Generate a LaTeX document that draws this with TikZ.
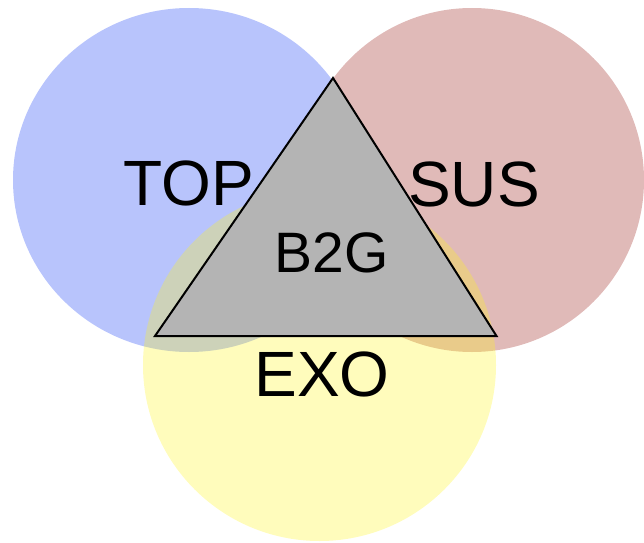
\documentclass[tikz,border=0pt]{standalone}
\usepackage{fontspec}
\setmainfont{Liberation Sans}
\definecolor{topblue}{RGB}{184,196,252}
\definecolor{susred}{RGB}{224,186,184}
\definecolor{exoyellow}{RGB}{255,245,32}
\definecolor{bgggray}{RGB}{180,180,180}
\begin{document}
\begin{tikzpicture}[x=1pt,y=1pt,
  lbl/.style={inner sep=0pt,anchor=base,font=\fontsize{64}{64}\selectfont},
  lblsmall/.style={inner sep=0pt,anchor=base,font=\fontsize{57}{57}\selectfont}]
\useasboundingbox (0,0) rectangle (644,542);
% circles
\fill[topblue] (189,362) ellipse [x radius=176, y radius=172];
\fill[susred] (472,362) ellipse [x radius=172, y radius=172];
\fill[exoyellow,opacity=0.3] (319.5,177) ellipse [x radius=176.5, y radius=176];
% triangle
\coordinate (apex) at (333,464);
\coordinate (bl) at (155,206);
\coordinate (br) at (496.5,206);
\draw[fill=bgggray,line width=2pt,line join=miter] (apex) -- (bl) -- (br) -- cycle;
% labels
\node[lbl] (top) at (188.5,337) {TOP};
\node[lbl] (sus) at (474,336) {SUS};
\node[lblsmall] (b2g) at (331.5,269.5) {B2G};
\node[lbl] (exo) at (322,146) {EXO};
\end{tikzpicture}
\end{document}
